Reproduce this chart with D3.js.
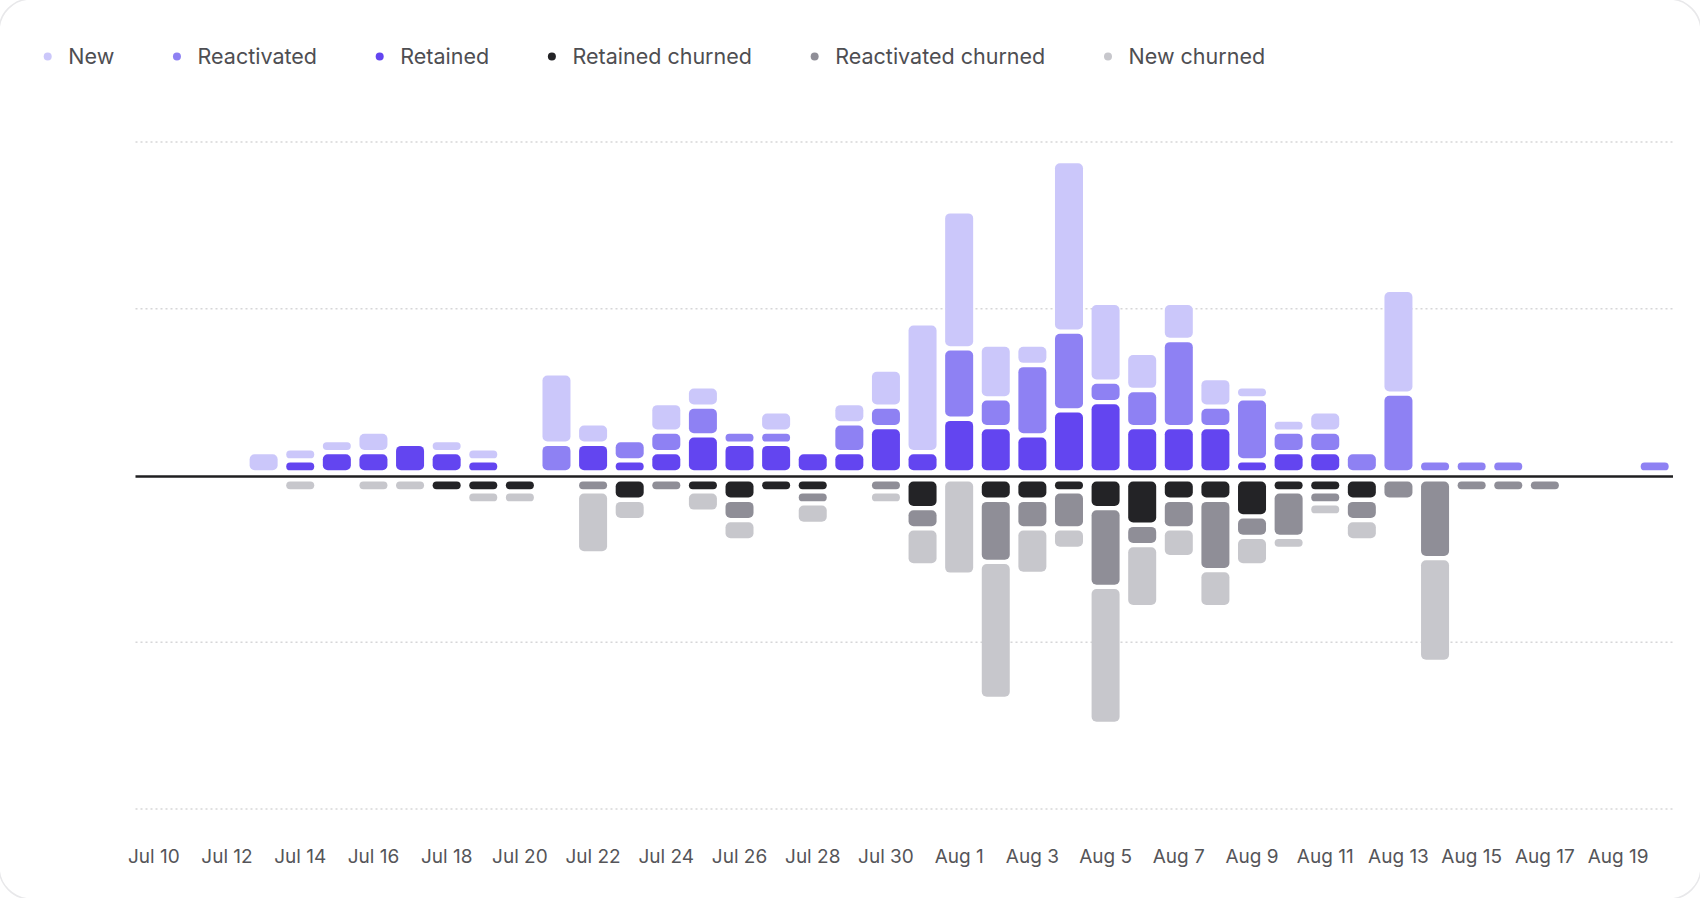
<!DOCTYPE html>
<html>
<head>
<meta charset="utf-8">
<script src="https://cdn.jsdelivr.net/npm/d3@7"></script>
<style>
  html, body { margin: 0; padding: 0; background: #ffffff; }
  svg { display: block; font-family: Inter, "Noto Sans", sans-serif; }
</style>
</head>
<body>
<svg id="chart" width="1700" height="898"></svg>
<script>
// ---- data ----
const categories = ["Jul 10","Jul 11","Jul 12","Jul 13","Jul 14","Jul 15","Jul 16","Jul 17","Jul 18","Jul 19",
  "Jul 20","Jul 21","Jul 22","Jul 23","Jul 24","Jul 25","Jul 26","Jul 27","Jul 28","Jul 29","Jul 30","Jul 31",
  "Aug 1","Aug 2","Aug 3","Aug 4","Aug 5","Aug 6","Aug 7","Aug 8","Aug 9","Aug 10","Aug 11","Aug 12","Aug 13",
  "Aug 14","Aug 15","Aug 16","Aug 17","Aug 18","Aug 19","Aug 20"];

const newVals         = [0,0,0,2,1,1,2,0,1,1,0,8,2,0,3,2,0,2,0,2,4,15,16,6,2,20,9,4,4,3,1,1,2,0,12,0,0,0,0,0,0,0];
const reactivatedVals = [0,0,0,0,0,0,0,0,0,0,0,3,0,2,2,3,1,1,0,3,2,0,8,3,8,9,2,4,10,2,7,2,2,2,9,1,1,1,0,0,0,1];
const retainedVals    = [0,0,0,0,1,2,2,3,2,1,0,0,3,1,2,4,3,3,2,2,5,2,6,5,4,7,8,5,5,5,1,2,2,0,0,0,0,0,0,0,0,0];
const retainedChurned    = [0,0,0,0,0,0,0,0,-1,-1,-1,0,0,-2,0,-1,-2,-1,-1,0,0,-3,0,-2,-2,-1,-3,-5,-2,-2,-4,-1,-1,-2,0,0,0,0,0,0,0,0];
const reactivatedChurned = [0,0,0,0,0,0,0,0,0,0,0,0,-1,0,-1,0,-2,0,-1,0,-1,-2,0,-7,-3,-4,-9,-2,-3,-8,-2,-5,-1,-2,-2,-9,-1,-1,-1,0,0,0];
const newChurned         = [0,0,0,0,-1,0,-1,-1,0,-1,-1,0,-7,-2,0,-2,-2,0,-2,0,-1,-4,-11,-16,-5,-2,-16,-7,-3,-4,-3,-1,-1,-2,0,-12,0,0,0,0,0,0];

const tickLabels = ["Jul 10","Jul 12","Jul 14","Jul 16","Jul 18","Jul 20","Jul 22","Jul 24","Jul 26","Jul 28",
  "Jul 30","Aug 1","Aug 3","Aug 5","Aug 7","Aug 9","Aug 11","Aug 13","Aug 15","Aug 17","Aug 19"];
const gridValues = [-40, -20, 20, 40];

const seriesNames  = ["New","Reactivated","Retained","Retained churned","Reactivated churned","New churned"];
const seriesColors = ["#cbc7fa","#8e81f3","#6345f0","#232326","#8f8e97","#c7c7cc"];

(function draw() {
  const W = 1700, H = 898;
  const plotLeft = 135.5, plotRight = 1673, plotTop = 142, plotBottom = 809;
  const svg = d3.select("#chart");

  // card (edges sit just outside the frame; only the rounded corners show)
  svg.append("rect").attr("x", -1).attr("y", -1).attr("width", W + 2).attr("height", H + 2)
    .attr("rx", 32).attr("fill", "#ffffff").attr("stroke", "#e8e8ea").attr("stroke-width", 1.5);

  const x = d3.scaleBand().domain(categories).range([plotLeft, plotRight]).paddingInner(0.235).paddingOuter(0.1175);
  const y = d3.scaleLinear().domain([-40, 40]).range([plotBottom, plotTop]);
  const zeroY = y(0);

  // grid
  svg.append("g").selectAll("line").data(gridValues).join("line")
    .attr("x1", plotLeft).attr("x2", plotRight)
    .attr("y1", d => y(d)).attr("y2", d => y(d))
    .attr("stroke", "#d6d6d8").attr("stroke-width", 1.3).attr("stroke-dasharray", "2,3");

  const posSeries = [
    {vals: retainedVals, color: seriesColors[2]},
    {vals: reactivatedVals, color: seriesColors[1]},
    {vals: newVals, color: seriesColors[0]}
  ];
  const negSeries = [
    {vals: retainedChurned, color: seriesColors[3]},
    {vals: reactivatedChurned, color: seriesColors[4]},
    {vals: newChurned, color: seriesColors[5]}
  ];
  const gap = 4.3, baseOff = 5.2, shrink = 0.6;
  const segs = [];
  categories.forEach((c, i) => {
    let pos = zeroY - baseOff;
    posSeries.forEach(s => {
      const v = s.vals[i];
      if (v > 0) {
        const h = (zeroY - y(v)) - shrink;
        segs.push({c, y: pos - h, h, color: s.color});
        pos = pos - h - gap;
      }
    });
    let npos = zeroY + baseOff + 0.8;
    negSeries.forEach(s => {
      const v = s.vals[i];
      if (v < 0) {
        const h = (y(v) - zeroY) - shrink;
        segs.push({c, y: npos, h, color: s.color});
        npos = npos + h + gap;
      }
    });
  });
  svg.append("g").selectAll("rect").data(segs).join("rect")
    .attr("x", d => x(d.c)).attr("width", x.bandwidth())
    .attr("y", d => d.y).attr("height", d => d.h)
    .attr("rx", d => Math.min(5, d.h / 2)).attr("ry", d => Math.min(5, d.h / 2))
    .attr("fill", d => d.color);

  // zero line
  svg.append("line").attr("x1", plotLeft).attr("x2", plotRight).attr("y1", zeroY + 1).attr("y2", zeroY + 1)
    .attr("stroke", "#1f1f21").attr("stroke-width", 2.6);

  // x axis labels
  const xAxis = d3.axisBottom(x).tickValues(tickLabels).tickSize(0).tickPadding(0);
  const gx = svg.append("g").attr("transform", "translate(0, 856)").call(xAxis);
  gx.select(".domain").remove();
  gx.selectAll("text").attr("font-size", 19).attr("fill", "#555559")
    .attr("font-family", "Inter, 'Noto Sans', sans-serif").attr("dy", "0.35em").attr("y", 0);

  // legend
  const lg = svg.append("g");
  let lx = 47.7;
  seriesNames.forEach((name, i) => {
    const g = lg.append("g");
    g.append("circle").attr("cx", lx).attr("cy", 56.5).attr("r", 4).attr("fill", seriesColors[i]);
    const t = g.append("text").attr("x", lx + 20.6).attr("y", 56.5).attr("dy", "0.35em")
      .attr("font-size", 21.5).attr("fill", "#4e4e52").text(name);
    lx = lx + 20.6 + t.node().getComputedTextLength() + 62.7;
  });
})();
</script>
</body>
</html>
